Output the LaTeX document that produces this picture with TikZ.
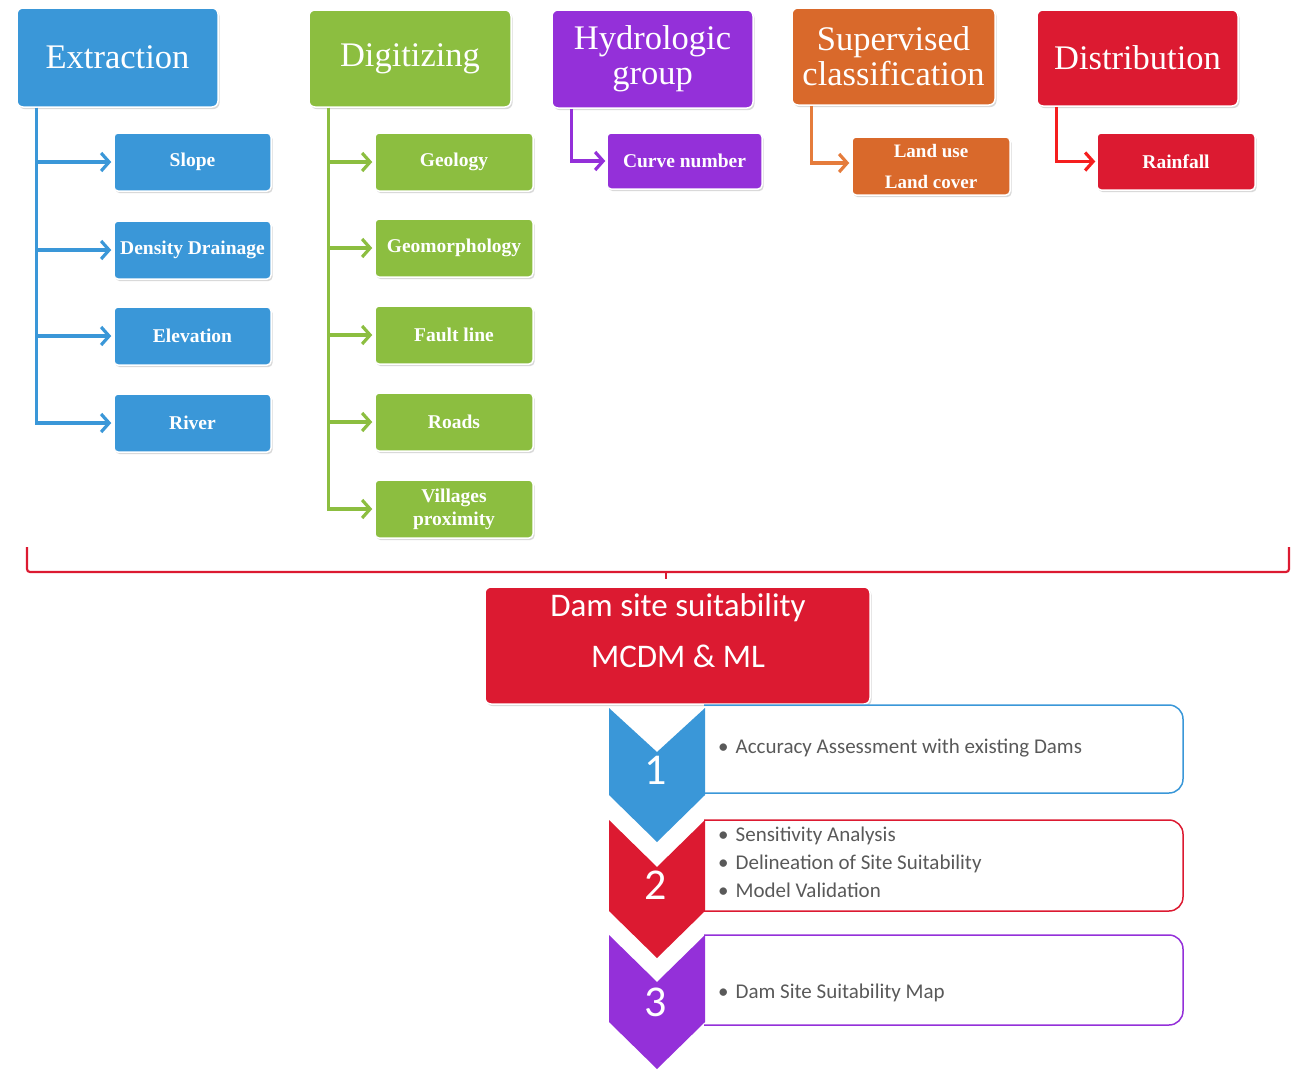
\documentclass[tikz,border=0pt]{standalone}
\usepackage{fontspec}
\setmainfont{Liberation Serif}
\newfontfamily\calib{Carlito}
\usetikzlibrary{arrows.meta,shadows}
\definecolor{cblue}{HTML}{3A97D8}
\definecolor{cgreen}{HTML}{8CBE40}
\definecolor{cpurple}{HTML}{9430D9}
\definecolor{corange}{HTML}{D9692B}
\definecolor{cred}{HTML}{DC1A31}
\definecolor{cbright}{HTML}{F51E1E}
\definecolor{carrorange}{HTML}{E57C3C}
\definecolor{ctext}{HTML}{595959}
\tikzset{
  hdr/.style={rounded corners=6pt, draw=white, line width=1.5pt, text=white, align=center,
    font=\fontsize{34.5}{35}\selectfont, inner sep=0pt,
    drop shadow={shadow xshift=1.5pt,shadow yshift=-2pt,opacity=0.3}},
  sub/.style={rounded corners=4pt, draw=white, line width=1.5pt, text=white, align=center,
    font=\bfseries\fontsize{19.5}{23}\selectfont, inner sep=0pt,
    drop shadow={shadow xshift=1.5pt,shadow yshift=-2pt,opacity=0.3}},
  conn/.style={line width=3.2pt, -{Straight Barb[length=8pt,width=18pt,line width=3.2pt]}},
  stepline/.style={rounded corners=14pt, line width=1.5pt},
  steptext/.style={anchor=west, align=left, text=ctext, font=\calib\fontsize{21}{28}\selectfont, inner sep=0pt},
  digit/.style={text=white, font=\calib\fontsize{44}{44}\selectfont, inner sep=0pt},
}
\newcommand{\stepbul}{\textbullet\hspace{7pt}}
\begin{document}
\begin{tikzpicture}[x=1pt,y=-1pt]
\useasboundingbox (0,0) rectangle (1291,1069);
% headers
\node[hdr, fill=cblue, minimum width=201pt, minimum height=99pt] (ext) at (117.5,57.5) {Extraction};
\node[hdr, fill=cgreen, minimum width=202pt, minimum height=97pt] (dig) at (410,58.5) {Digitizing};
\node[hdr, fill=cpurple, minimum width=201pt, minimum height=98pt] (hyd) at (652.5,59) {Hydrologic\\group};
\node[hdr, fill=corange, minimum width=203pt, minimum height=97pt] (sup) at (893.5,56.5) {Supervised\\classification};
\node[hdr, fill=cred, minimum width=201pt, minimum height=96pt] (dis) at (1137.5,58) {Distribution};
% blue children
\node[sub, fill=cblue, minimum width=157pt, minimum height=58pt] (slope) at (192.5,162) {Slope};
\node[sub, fill=cblue, minimum width=157pt, minimum height=58pt] (dens) at (192.5,250) {Density Drainage};
\node[sub, fill=cblue, minimum width=157pt, minimum height=58pt] (elev) at (192.5,336) {Elevation};
\node[sub, fill=cblue, minimum width=157pt, minimum height=58pt] (river) at (192.5,423) {River};
% green children
\node[sub, fill=cgreen, minimum width=158pt, minimum height=58pt] (geol) at (454,162) {Geology};
\node[sub, fill=cgreen, minimum width=158pt, minimum height=58pt] (geom) at (454,248) {Geomorphology};
\node[sub, fill=cgreen, minimum width=158pt, minimum height=58pt] (fault) at (454,335) {Fault line};
\node[sub, fill=cgreen, minimum width=158pt, minimum height=58pt] (roads) at (454,422) {Roads};
\node[sub, fill=cgreen, minimum width=158pt, minimum height=58pt] (vill) at (454,509) {Villages\\proximity};
% others
\node[sub, fill=cpurple, minimum width=155pt, minimum height=56pt] (curve) at (684.5,161) {Curve number};
\node[sub, fill=corange, minimum width=158pt, minimum height=58pt, font=\bfseries\fontsize{19}{31}\selectfont] (land) at (931,166) {Land use\\Land cover};
\node[sub, fill=cred, minimum width=158pt, minimum height=57pt] (rain) at (1176,161.5) {Rainfall};
% connectors
\foreach \c in {slope,dens,elev,river}
  \draw[conn, cblue] ([xshift=20pt]ext.south west) |- ([xshift=-2pt]\c.west);
\foreach \c in {geol,geom,fault,roads,vill}
  \draw[conn, cgreen] ([xshift=20pt]dig.south west) |- ([xshift=-2pt]\c.west);
\draw[conn, cpurple] ([xshift=20pt]hyd.south west) |- ([xshift=-1pt]curve.west);
\draw[conn, carrorange] ([xshift=20pt]sup.south west) |- ([xshift=-2pt,yshift=3pt]land.west);
\draw[conn, cbright] ([xshift=20pt]dis.south west) |- ([xshift=-1pt]rain.west);
% dam box
\node[rounded corners=6pt, draw=white, line width=1.5pt, fill=cred, minimum width=385pt, minimum height=117pt, inner sep=0pt,
  drop shadow={shadow xshift=1.5pt,shadow yshift=-2pt,opacity=0.3}] (dam) at (677.5,645.5) {};
\node[text=white, align=center, font=\calib\fontsize{33}{51}\selectfont, inner sep=0pt] (damtxt) at (678,631) {Dam site suitability\\MCDM \& ML};
% bracket
\coordinate (bl) at (27,547);
\coordinate (br) at (1289,547);
\coordinate (tick) at (666,572);
\draw[cred, line width=2.2pt, rounded corners=3pt] (bl) -- (27,572) -- (1289,572) -- (br);
\draw[cred, line width=2.2pt] (tick) -- ([yshift=7pt]tick |- dam.north);
% step boxes (open on the left, behind the chevrons)
\draw[stepline, cblue] (704,705) -- (1183,705) -- (1183,793) -- (704,793);
\draw[stepline, cred] (704,820) -- (1183,820) -- (1183,911) -- (704,911);
\draw[stepline, cpurple] (704,935) -- (1183,935) -- (1183,1025) -- (704,1025);
% chevrons
\fill[cblue] (609,708) -- (657,752) -- (705,708) -- (705,795) -- (657,842) -- (609,795) -- cycle;
\fill[cred] (609,820) -- (657,867) -- (705,820) -- (705,911) -- (657,958) -- (609,911) -- cycle;
\fill[cpurple] (609,935) -- (657,982) -- (705,935) -- (705,1022) -- (657,1069) -- (609,1022) -- cycle;
\node[digit] (d1) at (656,770) {1};
\node[digit] (d2) at (656,885) {2};
\node[digit] (d3) at (656,1002) {3};
% step texts
\node[steptext] (t1) at (718,748) {\stepbul Accuracy Assessment with existing Dams};
\node[steptext] (t2) at (718,862) {\stepbul Sensitivity Analysis\\\stepbul Delineation of Site Suitability\\\stepbul Model Validation};
\node[steptext] (t3) at (718,993) {\stepbul Dam Site Suitability Map};
\end{tikzpicture}
\end{document}
